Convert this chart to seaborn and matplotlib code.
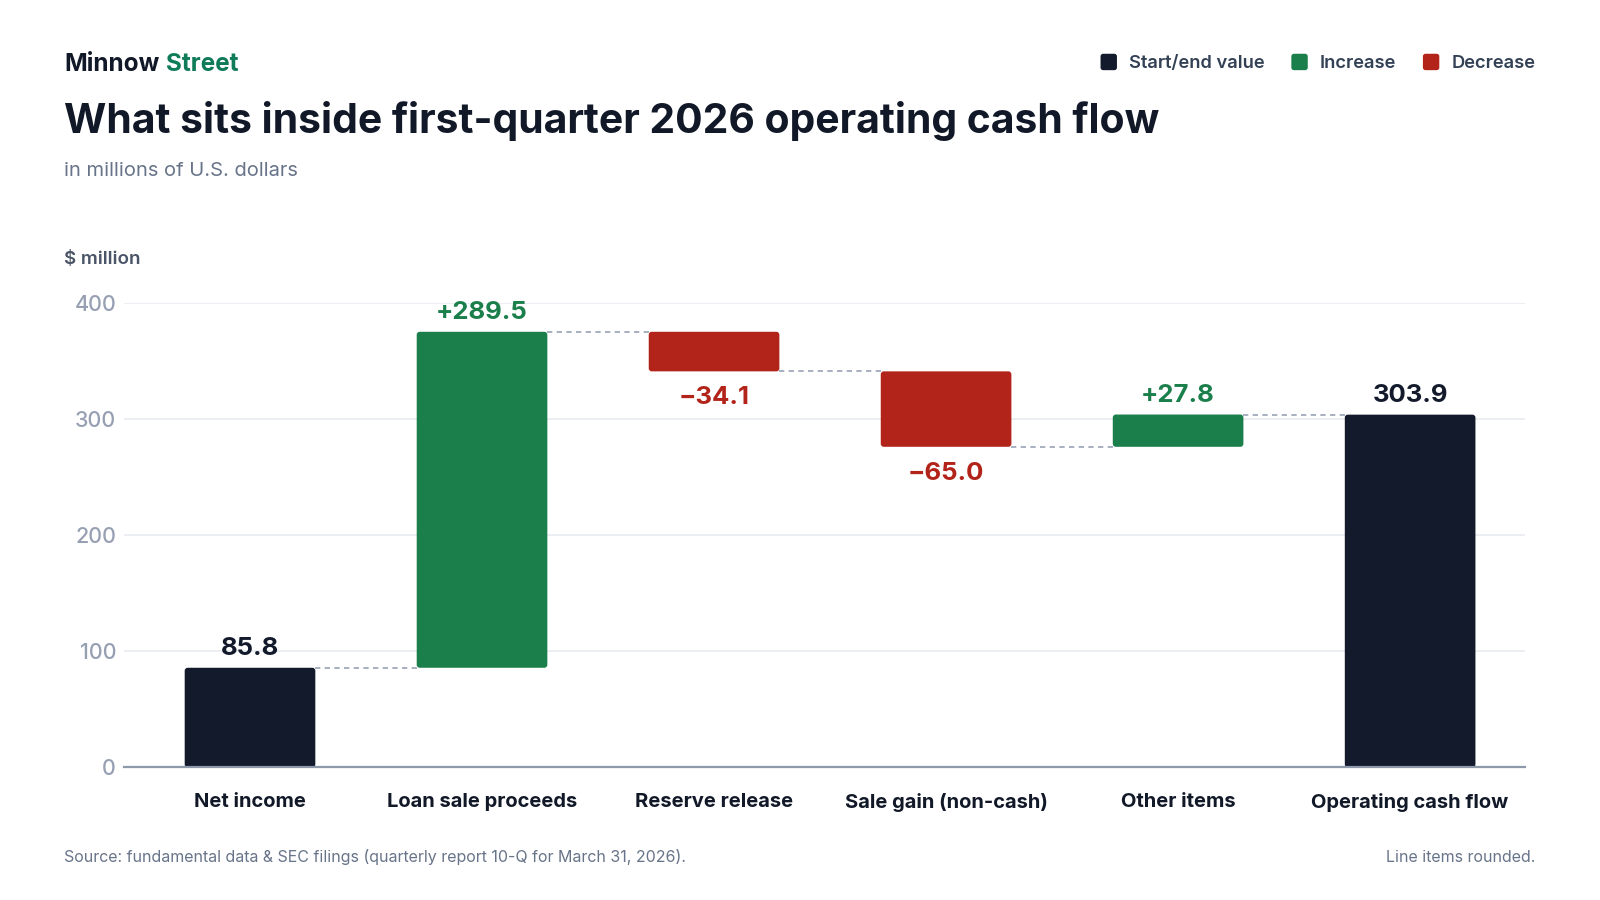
import matplotlib
matplotlib.use("Agg")
import matplotlib.pyplot as plt
import seaborn as sns
import pandas as pd
from matplotlib.patches import FancyBboxPatch, Patch, BoxStyle
from matplotlib.legend_handler import HandlerPatch

# ---------------- data ----------------
categories = ["Net income", "Loan sale proceeds", "Reserve release",
              "Sale gain (non-cash)", "Other items", "Operating cash flow"]
changes = [85.8, 289.5, -34.1, -65.0, 27.8, 303.9]
kinds = ["total", "increase", "decrease", "decrease", "increase", "total"]
value_labels = ["85.8", "+289.5", "\u221234.1", "\u221265.0", "+27.8", "303.9"]
y_ticks = [0, 100, 200, 300, 400]
legend_labels = ["Start/end value", "Increase", "Decrease"]

brand_a = "Minnow"
brand_b = "Street"
title = "What sits inside first-quarter 2026 operating cash flow"
subtitle = "in millions of U.S. dollars"
y_unit = "$ million"
source = "Source: fundamental data & SEC filings (quarterly report 10-Q for March 31, 2026)."
note = "Line items rounded."

# ---------------- style ----------------
C_TOTAL = "#121a2b"
C_UP = "#1b7f4b"
C_DOWN = "#b22319"
kind_color = {"total": C_TOTAL, "increase": C_UP, "decrease": C_DOWN}

sns.set_theme(style="white")
plt.rcParams["font.family"] = ["Inter", "DejaVu Sans"]

# waterfall geometry from the values
bases, heights, levels = [], [], []
running = 0.0
for v, k in zip(changes, kinds):
    if k == "total":
        bases.append(0.0)
        heights.append(v)
        running = v
    else:
        new = running + v
        bases.append(min(running, new))
        heights.append(abs(v))
        running = new
    levels.append(running)

df = pd.DataFrame({"category": categories, "height": heights,
                   "base": bases, "kind": kinds})

fig = plt.figure(figsize=(16, 9), dpi=100)
fig.patch.set_facecolor("white")
ax_l, ax_r, ax_b, ax_t = 0.0778, 0.9534, 0.1474, 0.6632
ax = fig.add_axes([ax_l, ax_b, ax_r - ax_l, ax_t - ax_b])

bar_w = 0.563
sns.barplot(data=df, x="category", y="height", bottom=df["base"].to_numpy(),
            width=bar_w, ax=ax, color=C_TOTAL, saturation=1, linewidth=0,
            errorbar=None)

xlim = (-0.541, 5.497)
ylim = (0, 400)
ax.set_xlim(*xlim)
ax.set_ylim(*ylim)

# rounded corners (same bounds as the seaborn bars)
ax_w_px = (ax_r - ax_l) * 1600
ax_h_px = (ax_t - ax_b) * 900
x_ppu = ax_w_px / (xlim[1] - xlim[0])
y_ppu = ax_h_px / (ylim[1] - ylim[0])
aspect = x_ppu / y_ppu
r = 3.0 / x_ppu

bars = list(ax.patches)
centers, tops, bottoms, lefts, rights = [], [], [], [], []
for p, k in zip(bars, kinds):
    x0, y0, w, h = p.get_x(), p.get_y(), p.get_width(), p.get_height()
    p.remove()
    fb = FancyBboxPatch((x0, y0), w, h,
                        boxstyle=BoxStyle.Round(pad=0, rounding_size=r),
                        mutation_aspect=aspect, facecolor=kind_color[k],
                        edgecolor="none", linewidth=0, zorder=2)
    ax.add_patch(fb)
    centers.append(x0 + w / 2)
    lefts.append(x0)
    rights.append(x0 + w)
    tops.append(y0 + h)
    bottoms.append(y0)

# connectors
for i in range(len(categories) - 1):
    ax.plot([rights[i], lefts[i + 1]], [levels[i], levels[i]],
            color="#9aa3b5", lw=1.2, dashes=(3.2, 2.6), zorder=1.5,
            solid_capstyle="butt", dash_capstyle="butt")

# value labels
for i, (k, lab) in enumerate(zip(kinds, value_labels)):
    if k == "decrease":
        ax.annotate(lab, xy=(centers[i], bottoms[i]), xytext=(0, -19),
                    textcoords="offset points", ha="center", va="center",
                    fontsize=18.5, fontweight="bold", color=C_DOWN,
                    annotation_clip=False)
    else:
        col = C_UP if k == "increase" else C_TOTAL
        ax.annotate(lab, xy=(centers[i], tops[i]), xytext=(0, 14),
                    textcoords="offset points", ha="center", va="center",
                    fontsize=18.5, fontweight="bold", color=col,
                    annotation_clip=False)

# axes styling
ax.set_yticks(y_ticks)
ax.set_xlabel("")
ax.set_ylabel("")
ax.set_axisbelow(True)
ax.yaxis.grid(True, color="#e8ebf0", lw=1.2)
ax.xaxis.grid(False)
for s in ["top", "right", "left"]:
    ax.spines[s].set_visible(False)
ax.spines["bottom"].set_color("#8e98ab")
ax.spines["bottom"].set_linewidth(1.6)
ax.spines["bottom"].set_zorder(3)
ax.tick_params(axis="y", length=0, pad=6, labelsize=15.5, labelcolor="#97a0b3")
ax.tick_params(axis="x", length=0, pad=18.5, labelsize=14.5, labelcolor="#111827")
for lbl in ax.get_yticklabels():
    lbl.set_fontweight("medium")
for lbl in ax.get_xticklabels():
    lbl.set_fontweight("bold")

# header texts
t_brand = fig.text(64.3 / 1600, 1 - 71 / 900, brand_a, fontsize=17.5,
                   fontweight="bold", color="#111827", va="baseline", ha="left")
ax.annotate(brand_b, xy=(1, 0), xycoords=t_brand, xytext=(4.5, 0),
            textcoords="offset points", va="bottom", ha="left",
            fontsize=17.5, fontweight="bold", color="#0f7b58")
fig.text(64.3 / 1600, 1 - 132.7 / 900, title, fontsize=29.4, fontweight="bold",
         color="#111827", va="baseline", ha="left")
fig.text(64.3 / 1600, 1 - 176 / 900, subtitle, fontsize=14.5, color="#687489",
         va="baseline", ha="left")
fig.text(64.3 / 1600, 1 - 259 / 900, y_unit, fontsize=13.5, fontweight="semibold",
         color="#4b5568", va="center", ha="left")


# legend with small rounded squares
class RoundSquare(HandlerPatch):
    def create_artists(self, legend, orig_handle, xdescent, ydescent,
                       width, height, fontsize, trans):
        s = min(width, height)
        p = FancyBboxPatch((-xdescent, -ydescent + (height - s) / 2), s, s,
                           boxstyle=BoxStyle.Round(pad=0, rounding_size=s * 0.16),
                           facecolor=orig_handle.get_facecolor(),
                           edgecolor="none", transform=trans)
        return [p]


handles = [Patch(facecolor=kind_color[k], edgecolor="none", label=l)
           for k, l in zip(["total", "increase", "decrease"], legend_labels)]
fig.legend(handles=handles, loc="center right",
           bbox_to_anchor=(1535.5 / 1600, 1 - 63 / 900), ncol=3, frameon=False,
           prop={"size": 13.2, "weight": "semibold"}, handlelength=1.0,
           handleheight=1.0, handletextpad=0.56, columnspacing=1.45,
           borderpad=0, borderaxespad=0, labelcolor="#334155",
           handler_map={Patch: RoundSquare()})

# footer
fig.text(64.3 / 1600, 1 - 857 / 900, source, fontsize=11.5, color="#687489",
         va="center", ha="left")
fig.text(1535.7 / 1600, 1 - 857 / 900, note, fontsize=11.5, color="#687489",
         va="center", ha="right")

fig.savefig("out.png", dpi=100, facecolor="white")
